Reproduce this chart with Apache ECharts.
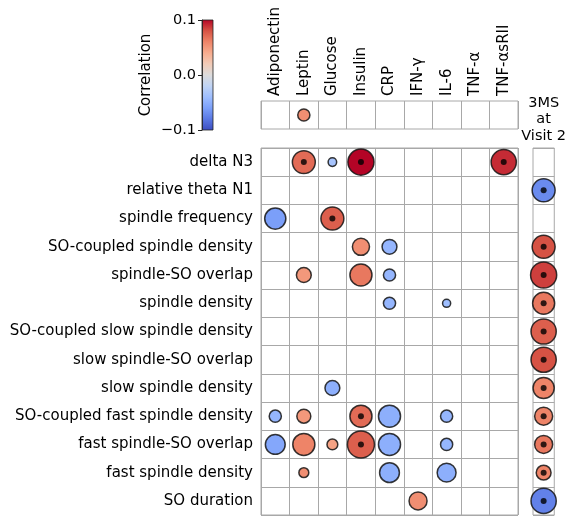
<!DOCTYPE html>
<html><head><meta charset="utf-8">
<script src="https://cdn.jsdelivr.net/npm/echarts@6/dist/echarts.min.js"></script>
<style>html,body{margin:0;padding:0;background:#fff}#c{width:569px;height:517px}</style>
</head><body><div id="c"></div>
<script>
const sleepFeatures = ['delta N3','relative theta N1','spindle frequency','SO-coupled spindle density','spindle-SO overlap','spindle density','SO-coupled slow spindle density','slow spindle-SO overlap','slow spindle density','SO-coupled fast spindle density','fast spindle-SO overlap','fast spindle density','SO duration'];
const biomarkers = ['Adiponectin','Leptin','Glucose','Insulin','CRP','IFN-γ','IL-6','TNF-α','TNF-αsRII'];
const cognitionLabel = '3MS\nat\nVisit 2';
const colorbarTicks = [-0.1, 0.0, 0.1];
// [biomarkerIdx, featureIdx, correlation, -log10(p), significant]
const featureBiomarkerCells = [
 [1,0,0.07,2.55,1],[2,0,-0.035,0.95,0],[3,0,0.1,2.9,1],[8,0,0.09,2.8,1],
 [0,2,-0.06,2.35,0],[2,2,0.075,2.55,1],
 [3,3,0.055,1.9,0],[4,3,-0.045,1.65,0],
 [1,4,0.05,1.65,0],[3,4,0.065,2.45,0],[4,4,-0.045,1.35,0],
 [4,5,-0.045,1.35,0],[6,5,-0.04,0.9,0],
 [2,8,-0.05,1.65,0],
 [0,9,-0.045,1.35,0],[1,9,0.05,1.55,0],[3,9,0.07,2.45,1],[4,9,-0.05,2.45,0],[6,9,-0.045,1.35,0],
 [0,10,-0.055,2.2,0],[1,10,0.06,2.45,0],[2,10,0.045,1.2,0],[3,10,0.075,3.0,1],[4,10,-0.05,2.45,0],[6,10,-0.045,1.35,0],
 [1,11,0.055,1.1,0],[4,11,-0.05,2.2,0],[6,11,-0.05,2.1,0],
 [5,12,0.055,2.0,0]
];
// [biomarkerIdx, correlation, -log10(p), significant]
const cognitionBiomarkerCells = [[1,0.055,1.35,0]];
// [featureIdx, correlation, -log10(p), significant]
const cognitionFeatureCells = [
 [1,-0.07,2.55,1],[3,0.08,2.55,1],[4,0.085,2.9,1],[5,0.065,2.45,1],[6,0.075,2.8,1],[7,0.08,2.8,1],
 [8,0.06,2.35,1],[9,0.06,2.0,1],[10,0.065,2.0,1],[11,0.06,1.65,1],[12,-0.075,2.8,1]
];
const coolwarm = ['#3b4cc0','#5977e3','#7b9ff9','#9ebeff','#c0d4f5','#dddcdc','#f2cbb7','#f7ac8e','#ee8468','#d65244','#b40426'];

const FONT = 'DejaVu Sans';
const FS = 15;
const gridLine = {show:true, interval:0, lineStyle:{color:'#a8a8a8', width:1}};
const mainData = featureBiomarkerCells.map(d => [d[0], d[1], d[2], d[3]]);
const mainSig = featureBiomarkerCells.filter(d => d[4]).map(d => [d[0], d[1]]);
const topData = cognitionBiomarkerCells.map(d => [d[0], 0, d[1], d[2]]);
const topSig = cognitionBiomarkerCells.filter(d => d[3]).map(d => [d[0], 0]);
const rightData = cognitionFeatureCells.map(d => [0, d[0], d[1], d[2]]);
const rightSig = cognitionFeatureCells.filter(d => d[3]).map(d => [0, d[0]]);

const bubbleStyle = {borderColor:'rgba(20,20,20,0.85)', borderWidth:1.5, opacity:1};
const sizeFn = v => 9 * v[3];
function bubbles(xi, yi, data){
  return {type:'scatter', xAxisIndex:xi, yAxisIndex:yi, data, symbol:'circle', symbolSize:sizeFn, itemStyle:bubbleStyle, z:3, silent:true};
}
function dots(xi, yi, data){
  return {type:'scatter', xAxisIndex:xi, yAxisIndex:yi, data, symbol:'circle', symbolSize:6, itemStyle:{color:'#000'}, z:4, silent:true};
}
const gradStops = coolwarm.slice().reverse().map((c,i,a)=>({offset:i/(a.length-1), color:c}));

const chart = echarts.init(document.getElementById('c'), null, {renderer:'canvas'});
chart.setOption({
  animation:false,
  backgroundColor:'#fff',
  textStyle:{fontFamily:FONT, color:'#000'},
  grid:[
    {left:261, top:148, width:257, height:367, show:true, borderColor:'#a8a8a8', borderWidth:1, backgroundColor:'transparent'},
    {left:261, top:101, width:257, height:28, show:true, borderColor:'#a8a8a8', borderWidth:1, backgroundColor:'transparent'},
    {left:533, top:148, width:27, height:367, show:true, borderColor:'#a8a8a8', borderWidth:1, backgroundColor:'transparent'},
    {left:202, top:20, width:11, height:110, show:true, borderColor:'#222', borderWidth:0.8,
     backgroundColor:new echarts.graphic.LinearGradient(0,0,0,1,gradStops)}
  ],
  xAxis:[
    {gridIndex:0, type:'category', data:biomarkers, axisLabel:{show:false}, axisTick:{show:false}, axisLine:{show:false}, splitLine:gridLine},
    {gridIndex:1, type:'category', data:biomarkers, position:'top', axisTick:{show:false}, axisLine:{show:false}, splitLine:gridLine,
     axisLabel:{rotate:-90, margin:5, fontSize:FS, fontFamily:FONT, color:'#000', interval:0}},
    {gridIndex:2, type:'category', data:[cognitionLabel], position:'top', axisTick:{show:false}, axisLine:{show:false},
     axisLabel:{margin:4, fontSize:FS-0.5, lineHeight:16.5, fontFamily:FONT, color:'#000', align:'center'}},
    {gridIndex:3, type:'value', show:false, min:0, max:1}
  ],
  yAxis:[
    {gridIndex:0, type:'category', data:sleepFeatures, inverse:true, axisTick:{show:false}, axisLine:{show:false}, splitLine:gridLine,
     axisLabel:{margin:8, fontSize:FS, fontFamily:FONT, color:'#000', interval:0}},
    {gridIndex:1, type:'category', data:['3MS'], axisLabel:{show:false}, axisTick:{show:false}, axisLine:{show:false}},
    {gridIndex:2, type:'category', data:sleepFeatures, inverse:true, axisLabel:{show:false}, axisTick:{show:false}, axisLine:{show:false}, splitLine:gridLine},
    {gridIndex:3, type:'value', min:colorbarTicks[0], max:colorbarTicks[2], interval:0.1, position:'left',
     axisLine:{show:true, lineStyle:{color:'#222', width:0.8}}, axisTick:{show:true, length:4, lineStyle:{color:'#222'}},
     splitLine:{show:false},
     axisLabel:{fontSize:FS-0.5, fontFamily:FONT, color:'#000', margin:6,
       formatter:v => (v < -1e-9 ? '\u2212' : '') + Math.abs(v).toFixed(1)},
     name:'Correlation', nameLocation:'middle', nameGap:48, nameRotate:90,
     nameTextStyle:{fontSize:FS, fontFamily:FONT, color:'#000'}}
  ],
  visualMap:{show:false, type:'continuous', min:colorbarTicks[0], max:colorbarTicks[2], dimension:2, seriesIndex:[0,2,4], inRange:{color:coolwarm}},
  series:[
    bubbles(0,0,mainData), dots(0,0,mainSig),
    bubbles(1,1,topData), dots(1,1,topSig),
    bubbles(2,2,rightData), dots(2,2,rightSig),
    {type:'scatter', xAxisIndex:3, yAxisIndex:3, data:[]}
  ]
});
</script></body></html>
